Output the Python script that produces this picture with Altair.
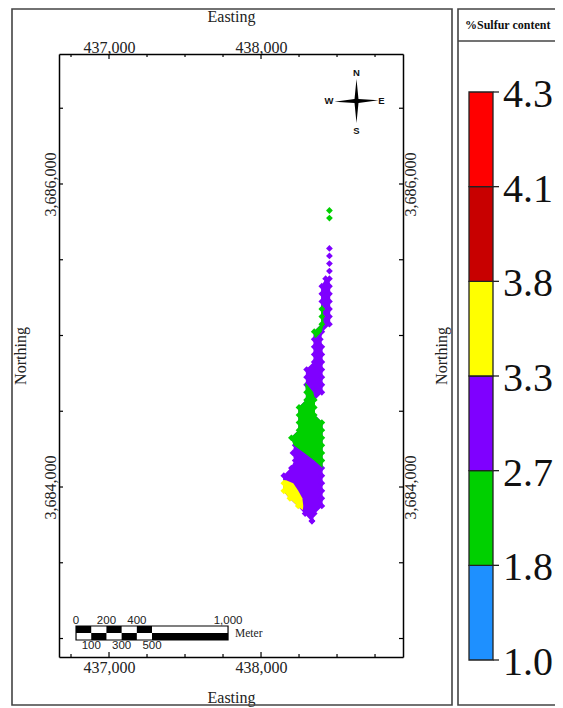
import altair as alt
import pandas as pd

PURPLE, GREEN, YELLOW = "#7F00FF", "#00D000", "#FFFF00"
FONT = "Liberation Serif"
SANS = "Liberation Sans"
INK = "#222222"

# map: rows of the sulfur body (northing, west and east edge, edge colours)
chain_n = [3685825, 3685775, 3685575, 3685525, 3685475, 3685425]
chain_e = [438450, 438450, 438450, 438450, 438450, 438450]
chain_c = [GREEN, GREEN, PURPLE, PURPLE, PURPLE, PURPLE]

body_n = [3685375, 3685325, 3685275, 3685225, 3685175, 3685125, 3685075, 3685025, 3684975,
          3684925, 3684875, 3684825, 3684775, 3684725, 3684675, 3684625, 3684575, 3684525,
          3684475, 3684425, 3684375, 3684325, 3684275, 3684225, 3684175, 3684125, 3684075,
          3684025, 3683975, 3683925, 3683875, 3683825, 3683775]
body_w = [438425, 438400, 438400, 438400, 438400, 438400, 438400, 438350, 438350,
          438350, 438350, 438350, 438300, 438300, 438300, 438300, 438300, 438250,
          438250, 438250, 438250, 438200, 438225, 438210, 438225, 438200, 438150,
          438150, 438150, 438190, 438245, 438290, 438335]
body_e = [438450, 438450, 438450, 438450, 438450, 438450, 438450, 438400, 438390,
          438400, 438400, 438400, 438400, 438400, 438400, 438400, 438350, 438350,
          438350, 438400, 438400, 438400, 438400, 438400, 438400, 438400, 438400,
          438400, 438400, 438400, 438400, 438350, 438335]
west_c = [PURPLE] * 4 + [GREEN] * 3 + [GREEN, PURPLE] + [PURPLE] * 6 + [GREEN] * 7 + \
         [PURPLE] * 5 + [YELLOW] * 4 + [PURPLE] * 2
east_c = [PURPLE] * 16 + [GREEN] * 9 + [PURPLE] * 8

green_n = [3684685, 3684625, 3684575, 3684525, 3684475, 3684425, 3684375, 3684325, 3684275,
           3684225, 3684175, 3684125]
green_w = [438290, 438295, 438295, 438245, 438245, 438245, 438245, 438195, 438215, 438285,
           438350, 438405]
green_e = [438295, 438344, 438355, 438355, 438355, 438405, 438405, 438405, 438405, 438405,
           438405, 438405]

patch_n = [3685200, 3685125, 3685075, 3685025, 3684985]
patch_w = [438398, 438395, 438395, 438345, 438352]
patch_e = [438404, 438410, 438412, 438400, 438362]

yellow_n = [3684045, 3684025, 3683975, 3683925, 3683875, 3683850]
yellow_w = [438145, 438145, 438145, 438185, 438240, 438270]
yellow_e = [438165, 438212, 438245, 438272, 438278, 438275]

# axes
tick_e_major = [437000, 438000]
tick_e_minor = [436750, 437250, 437500, 437750, 438250, 438500, 438750]
tick_n = [3686500, 3686000, 3685500, 3685000, 3684500, 3684000, 3683500, 3683000]
label_n = [3686000, 3684000]

# legend
levels = ["1.0", "1.8", "2.7", "3.3", "3.8", "4.1", "4.3"]
level_colors = ["#1E90FF", "#00D000", "#7F00FF", "#FFFF00", "#C80000", "#FF0000"]

# scale bar (metres along easting)
bar_start = 436783
bar_top_black = [0, 200, 400]
bar_bottom_black = [100, 300, 500]
bar_top_labels = ["0", "200", "400", "1,000"]
bar_top_offsets = [0, 200, 400, 1000]
bar_bottom_labels = ["100", "300", "500"]
bar_bottom_offsets = [100, 300, 500]

W, H = 344, 603
OX, OY = 59, 54  # page position of the plot area
xs = alt.Scale(domain=[436671, 438934], nice=False, zero=False)
ys = alt.Scale(domain=[3682878, 3686858], nice=False, zero=False)


def px(v):
    return alt.value(v - OX)


def py(v):
    return alt.value(v - OY)


def area(n, w, e, colour):
    d = pd.DataFrame({"n": n, "w": w, "e": e})
    return alt.Chart(d).mark_area(orient="horizontal", color=colour, opacity=1, strokeWidth=0).encode(
        x=alt.X("w:Q", scale=xs, axis=None, stack=None),
        x2="e:Q",
        y=alt.Y("n:Q", scale=ys, axis=None),
    )


teeth = pd.DataFrame({
    "e": chain_e + body_w + body_e,
    "n": chain_n + body_n + body_n,
    "c": chain_c + west_c + east_c,
})
diamonds = alt.Chart(teeth).mark_point(shape="diamond", filled=True, size=46, opacity=1, strokeWidth=0).encode(
    x=alt.X("e:Q", scale=xs, axis=None),
    y=alt.Y("n:Q", scale=ys, axis=None),
    color=alt.Color("c:N", scale=None),
)

axis_style = dict(
    domainColor="#000000", domainWidth=1.5, ticks=False, grid=False, labelFont=FONT, labelFontSize=16,
    labelColor=INK, titleFont=FONT, titleFontSize=16, titleFontWeight="normal", titleColor=INK,
    format=",.0f", labelOverlap=False, labelFlush=False,
)


def x_ticks(values, length, orient, axis=None):
    d = pd.DataFrame({"e": values})
    y0, y1 = (H, H - length) if orient == "bottom" else (0, length)
    return alt.Chart(d).mark_rule(color="#000000", strokeWidth=1.2).encode(
        x=alt.X("e:Q", scale=xs, axis=axis), y=alt.value(y0), y2=alt.value(y1)
    )


def y_ticks(values, length, orient, axis=None):
    d = pd.DataFrame({"n": values})
    x0, x1 = (0, length) if orient == "left" else (W, W - length)
    return alt.Chart(d).mark_rule(color="#000000", strokeWidth=1.2).encode(
        y=alt.Y("n:Q", scale=ys, axis=axis), x=alt.value(x0), x2=alt.value(x1)
    )


ax_bottom = alt.Axis(orient="bottom", values=tick_e_major, title="Easting", labelPadding=2, titlePadding=14, **axis_style)
ax_top = alt.Axis(orient="top", values=tick_e_major, title="Easting", labelPadding=-1, titlePadding=15, **axis_style)
ax_left = alt.Axis(orient="left", values=label_n, title="Northing", labelAngle=270, labelAlign="center",
                   labelBaseline="bottom", labelPadding=1, titlePadding=14, **axis_style)
ax_right = alt.Axis(orient="right", values=label_n, title="Northing", labelAngle=270, labelAlign="center",
                    labelBaseline="top", labelPadding=-1, titlePadding=31, titleAngle=270, **axis_style)

tick_layers = [
    x_ticks(tick_e_major, 5, "bottom", ax_bottom),
    x_ticks(tick_e_major, 5, "top", ax_top),
    x_ticks(tick_e_minor, 3, "bottom"),
    x_ticks(tick_e_minor, 3, "top"),
    y_ticks(tick_n, 4, "left", ax_left),
    y_ticks(tick_n, 4, "right", ax_right),
]

# panel frames
frames = [
    alt.Chart(pd.DataFrame({"p": ["map"]})).mark_rect(fill=None, stroke="#444444", strokeWidth=1.6).encode(
        x=px(12), x2=px(452), y=py(9), y2=py(705)),
    alt.Chart(pd.DataFrame({"p": ["legend"]})).mark_rect(fill=None, stroke="#444444", strokeWidth=1.6).encode(
        x=px(458), x2=px(575), y=py(9), y2=py(705)),
    alt.Chart(pd.DataFrame({"p": ["head"]})).mark_rule(color="#444444", strokeWidth=1.6).encode(
        x=px(458), x2=px(575), y=py(41)),
]
header = alt.Chart(pd.DataFrame({"t": ["%Sulfur content"]})).mark_text(
    font=FONT, fontSize=12, fontWeight="bold", align="left", baseline="middle", color="#111111"
).encode(text="t:N", x=px(465), y=py(25))

# legend colour bar
leg_scale = alt.Scale(domain=[0, 6], range=[660 - OY, 92 - OY], nice=False, zero=False)
leg_df = pd.DataFrame({"lo": list(range(6)), "hi": list(range(1, 7)), "c": level_colors})
lab_df = pd.DataFrame({"i": list(range(7)), "t": levels})
legend_bar = alt.Chart(leg_df).mark_rect(stroke="#222222", strokeWidth=1.3).encode(
    x=px(469), x2=px(493),
    y=alt.Y("lo:Q", scale=leg_scale, axis=None), y2="hi:Q",
    fill=alt.Color("c:N", scale=None),
)
legend_ticks = alt.Chart(lab_df).mark_rule(color="#222222", strokeWidth=1.3).encode(
    x=px(493), x2=px(499), y=alt.Y("i:Q", scale=leg_scale, axis=None))
legend_text = alt.Chart(lab_df).mark_text(
    font=FONT, fontSize=40, align="left", baseline="middle", dy=3, color="#111111"
).encode(x=px(503), y=alt.Y("i:Q", scale=leg_scale, axis=None), text="t:N")


# scale bar
def bar_rows(offsets, width_to, top, bottom, colour):
    d = pd.DataFrame({"a": [bar_start + o for o in offsets], "b": [bar_start + o + width_to for o in offsets]})
    return alt.Chart(d).mark_rect(color=colour, strokeWidth=0).encode(
        x=alt.X("a:Q", scale=xs, axis=None), x2="b:Q", y=py(top), y2=py(bottom))


bar_layers = [
    bar_rows([0], 1000, 626, 640, "#FFFFFF"),
    bar_rows(bar_top_black, 100, 626, 633, "#000000"),
    bar_rows(bar_bottom_black, 100, 633, 640, "#000000"),
    bar_rows([500], 500, 633, 640, "#000000"),
    alt.Chart(pd.DataFrame({"a": [bar_start], "b": [bar_start + 1000]})).mark_rect(
        fill=None, stroke="#000000", strokeWidth=1.2).encode(
        x=alt.X("a:Q", scale=xs, axis=None), x2="b:Q", y=py(626), y2=py(640)),
]
bar_top_df = pd.DataFrame({"a": [bar_start + o for o in bar_top_offsets], "t": bar_top_labels})
bar_bot_df = pd.DataFrame({"a": [bar_start + o for o in bar_bottom_offsets], "t": bar_bottom_labels})
bar_text = [
    alt.Chart(bar_top_df).mark_text(font=SANS, fontSize=11.5, color="#222222").encode(
        x=alt.X("a:Q", scale=xs, axis=None), y=py(620.5), text="t:N"),
    alt.Chart(bar_bot_df).mark_text(font=SANS, fontSize=11.5, color="#222222").encode(
        x=alt.X("a:Q", scale=xs, axis=None), y=py(646), text="t:N"),
    alt.Chart(pd.DataFrame({"t": ["Meter"]})).mark_text(font=FONT, fontSize=11.5, align="left", color="#222222").encode(
        x=px(235), y=py(633.5), text="t:N"),
]

# north arrow
star = "M0,-1 L0.09,-0.09 L1,-0.03 L0.09,0.09 L0,1 L-0.09,0.09 L-1,0.03 L-0.09,-0.09 Z"
arrow = alt.Chart(pd.DataFrame({"s": ["star"]})).mark_point(
    shape=star, filled=True, size=1936, color="#000000", opacity=1, strokeWidth=0
).encode(x=px(356.5), y=py(101))
compass = [
    alt.Chart(pd.DataFrame({"t": [t]})).mark_text(font=SANS, fontSize=9.5, fontWeight="bold", color="#111111").encode(
        x=px(cx), y=py(cy), text="t:N")
    for t, cx, cy in [("N", 356.5, 73), ("S", 356.5, 130.5), ("W", 329, 101), ("E", 381.5, 101)]
]

body_w_edge = [v - 5 if n < 3685375 else v for v, n in zip(body_w, body_n)]
body_e_edge = [v + 5 if n < 3685375 else v for v, n in zip(body_e, body_n)]

layers = frames + [
    area(body_n, body_w_edge, body_e_edge, PURPLE),
    diamonds,
    area(green_n, green_w, green_e, GREEN),
    area(patch_n, patch_w, patch_e, GREEN),
    area(yellow_n, yellow_w, yellow_e, YELLOW),
] + tick_layers + bar_layers + bar_text + [arrow] + compass + [header, legend_bar, legend_ticks, legend_text]

chart = alt.layer(*layers).resolve_scale(x="independent", y="independent").properties(
    width=W, height=H,
    padding={"left": OX - 8, "top": OY - 8, "right": 547 - (OX - 8) - W, "bottom": 700 - (OY - 8) - H},
    autosize=alt.AutoSizeParams(type="none"),
).configure_view(stroke=None)

chart.save("out.html", embed_options={"renderer": "svg", "actions": False})
